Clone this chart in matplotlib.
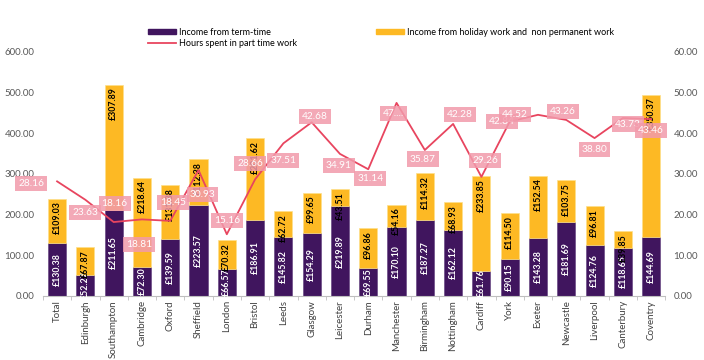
import matplotlib
matplotlib.use("Agg")
import numpy as np
import matplotlib.pyplot as plt
from matplotlib.patches import Patch
from matplotlib.lines import Line2D

# Data

cities = ['Total', 'Edinburgh', 'Southampton', 'Cambridge', 'Oxford', 'Sheffield',
          'London', 'Bristol', 'Leeds', 'Glasgow', 'Leicester', 'Durham',
          'Manchester', 'Birmingham', 'Nottingham', 'Cardiff', 'York', 'Exeter',
          'Newcastle', 'Liverpool', 'Canterbury', 'Coventry']

term_time = [130.38, 52.27, 211.65, 72.30, 139.59, 223.57,
             66.57, 186.91, 145.82, 154.29, 219.89, 69.55,
             170.10, 187.27, 162.12, 61.76, 90.15, 143.28,
             181.69, 124.76, 118.65, 144.69]

holiday = [109.03, 67.87, 307.89, 218.64, 131.88, 112.38,
           70.32, 201.62, 62.72, 99.65, 43.51, 96.86,
           54.16, 114.32, 68.93, 233.85, 114.50, 152.54,
           103.75, 96.81, 39.85, 350.37]

hours = [28.16, 23.63, 18.16, 18.81, 18.45, 30.93,
         15.16, 28.66, 37.51, 42.68, 34.91, 31.14,
         47.45, 35.87, 42.28, 29.26, 42.84, 44.52,
         43.26, 38.80, 43.73, 43.46]

hours_labels = ['28.16', '23.63', '18.16', '18.81', '18.45', '30.93',
                '15.16', '28.66', '37.51', '42.68', '34.91', '31.14',
                '47....', '35.87', '42.28', '29.26', '42.84', '44.52',
                '43.26', '38.80', '43.73', '43.46']

# Where each hours callout sits relative to its point (pixels)
label_offsets = [(-26, -2), (0, -13), (1, 19), (-3, -25), (3, 18), (4, -24),
                 (0, 14), (-5, 16), (0, -17), (3, 6), (-1, -12), (2, -9),
                 (-3, -11), (-2, -9), (7, 9), (4, 16), (-8, 0), (-23, 0),
                 (-3, 8), (0, -11), (5, -6), (0, -11)]

purple = '#40155e'
yellow = '#fdb924'
red = '#e8455f'
pink = '#f29aab'
grey = '#595959'

plt.rcParams['font.family'] = ['Lato', 'DejaVu Sans']

fig = plt.figure(figsize=(7.04, 3.6), dpi=100)
ax = fig.add_axes([0.061, 0.178, 0.884, 0.678])

x = np.arange(len(cities))
tot = np.array(term_time) + np.array(holiday)

ax.bar(x, term_time, width=0.64, color=purple, edgecolor='#6b4a85', linewidth=0.5, zorder=2)
ax.bar(x, holiday, width=0.64, bottom=term_time, color=yellow, edgecolor='#fde08a',
       linewidth=0.5, zorder=2)

for i in range(len(cities)):
    ax.text(x[i], term_time[i] / 2, '£%.2f' % term_time[i], rotation=90,
            ha='center', va='center', color='white', fontsize=6.3, fontweight='bold', zorder=3)
    ax.annotate('£%.2f' % holiday[i], (x[i], tot[i]), xytext=(0, -3),
                textcoords='offset pixels', rotation=90, ha='center', va='top',
                color='black', fontsize=6.3, fontweight='bold', zorder=3)

ax.set_xlim(-0.5, len(cities) - 0.5)
ax.set_ylim(0, 600)
ax.set_yticks(np.arange(0, 601, 100))
ax.set_yticklabels(['%.2f' % v for v in np.arange(0, 601, 100)])
ax.set_xticks(x)
ax.set_xticklabels(cities, rotation=90, fontsize=7, color='#404040')
ax.set_xticks(np.arange(-0.5, len(cities), 1), minor=True)
ax.tick_params(axis='x', which='major', length=0, pad=3)
ax.tick_params(axis='x', which='minor', length=3, color='#bfbfbf')
ax.tick_params(axis='y', length=0, labelsize=7, labelcolor=grey, pad=6)
for s in ['top', 'left', 'right']:
    ax.spines[s].set_visible(False)
ax.spines['bottom'].set_color('#bfbfbf')

ax2 = ax.twinx()
ax2.set_ylim(0, 60)
ax2.set_yticks(np.arange(0, 61, 10))
ax2.set_yticklabels(['%.2f' % v for v in np.arange(0, 61, 10)])
ax2.tick_params(axis='y', length=0, labelsize=7, labelcolor=grey, pad=6)
for s in ['top', 'left', 'right', 'bottom']:
    ax2.spines[s].set_visible(False)

ax2.plot(x, hours, color=red, linewidth=1.3, zorder=4)
for i in range(len(cities)):
    ax2.annotate(hours_labels[i], (x[i], hours[i]), xytext=label_offsets[i],
                 textcoords='offset pixels', ha='center', va='center',
                 color='white', fontsize=7.3, zorder=5,
                 bbox=dict(boxstyle='square,pad=0.3', fc=pink, ec='none', alpha=0.85))

handles = [Patch(color=purple), Line2D([0], [0], color=red, linewidth=1.3), Patch(color=yellow)]
names = ['Income from term-time', 'Hours spent in part time work',
         'Income from holiday work and  non permanent work']
fig.legend(handles, names, ncol=2, loc='upper left', bbox_to_anchor=(0.198, 0.945),
           frameon=False, fontsize=6.5, handlelength=3.1, handleheight=0.45,
           columnspacing=8.8, labelspacing=0.25, handletextpad=0.35)

fig.savefig('out.png', dpi=100)
